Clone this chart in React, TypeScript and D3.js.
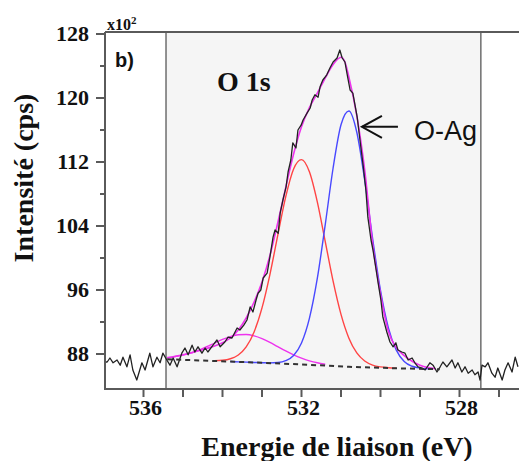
import React from 'react';
import * as d3 from 'd3';

// Raw XPS spectrum (binding energy eV, intensity x10^2 cps)
const rawSpectrum: [number, number][] = [
  [536.97, 87.0], [536.92, 87.0], [536.85, 87.5], [536.77, 86.9], [536.67, 87.25], [536.59, 86.6],
  [536.52, 87.6], [536.42, 86.4], [536.34, 87.9], [536.27, 86.0], [536.17, 84.75], [536.04, 86.9],
  [535.96, 86.0], [535.84, 88.1], [535.76, 86.4], [535.66, 87.6], [535.58, 86.9], [535.51, 88.1],
  [535.41, 87.25], [535.33, 86.6], [535.25, 87.5], [535.15, 86.4], [535.03, 88.1], [534.95, 88.75],
  [534.87, 87.9], [534.77, 89.1], [534.70, 88.25], [534.62, 88.9], [534.52, 88.1], [534.44, 88.75],
  [534.37, 88.25], [534.24, 89.1], [534.14, 89.75], [534.06, 88.9], [533.94, 89.5], [533.86, 90.1],
  [533.76, 90.0], [533.63, 91.25], [533.56, 91.0], [533.46, 91.6], [533.38, 92.25], [533.30, 93.9],
  [533.23, 93.25], [533.15, 94.75], [533.10, 95.6], [533.03, 96.0], [532.97, 97.5], [532.87, 98.1],
  [532.80, 100.1], [532.72, 102.6], [532.67, 103.5], [532.59, 103.1], [532.54, 105.6], [532.47, 107.25],
  [532.39, 108.9], [532.34, 110.75], [532.27, 112.25], [532.22, 114.4], [532.14, 113.75], [532.09, 116.0],
  [532.01, 116.6], [531.96, 117.25], [531.86, 118.1], [531.78, 118.75], [531.73, 119.75], [531.66, 120.4],
  [531.58, 120.1], [531.53, 121.4], [531.46, 122.25], [531.36, 122.9], [531.28, 123.75], [531.20, 124.5],
  [531.10, 125.0], [531.03, 126.0], [530.97, 125.0], [530.90, 124.5], [530.85, 123.1], [530.77, 121.0],
  [530.70, 120.6], [530.59, 117.6], [530.52, 114.75], [530.44, 111.6], [530.37, 108.5], [530.32, 105.1],
  [530.24, 102.25], [530.19, 101.0], [530.11, 98.5], [530.06, 96.9], [529.99, 94.75], [529.94, 92.6],
  [529.84, 90.75], [529.76, 89.5], [529.68, 88.9], [529.61, 89.4], [529.56, 88.5], [529.46, 88.25],
  [529.38, 88.1], [529.30, 87.25], [529.20, 87.5], [529.13, 86.9], [529.05, 86.4], [528.95, 86.25],
  [528.87, 86.0], [528.75, 86.9], [528.67, 86.6], [528.57, 85.75], [528.49, 86.4], [528.42, 87.0],
  [528.32, 86.4], [528.19, 87.25], [528.11, 86.25], [528.04, 86.9], [527.94, 85.75], [527.86, 86.4],
  [527.78, 85.6], [527.68, 86.0], [527.61, 85.4], [527.53, 85.75], [527.48, 84.75], [527.43, 86.6],
  [527.35, 86.4], [527.28, 86.9], [527.18, 85.6], [527.10, 85.1], [527.03, 86.25], [526.92, 84.75],
  [526.85, 86.0], [526.77, 86.9], [526.67, 85.75], [526.59, 87.6], [526.52, 86.4],
];

// Shirley-type background (dashed)
const backgroundLine: [number, number][] = [
  [535.4, 87.35], [534.6, 87.2], [533.5, 87.0], [532.0, 86.7], [530.8, 86.4], [529.5, 86.2], [528.5, 86.1],
];

// Fit envelope (magenta)
const envelopeFit: [number, number][] = [
  [535.4, 87.5], [535.2, 87.7], [535.0, 87.9], [534.8, 88.15], [534.6, 88.4], [534.4, 88.7],
  [534.2, 89.0], [534.0, 89.4], [533.8, 90.0], [533.6, 91.0], [533.4, 92.5], [533.2, 94.5],
  [533.0, 97.0], [532.8, 100.3], [532.6, 104.4], [532.4, 108.8], [532.2, 113.0], [532.0, 116.4],
  [531.8, 118.8], [531.6, 120.6], [531.4, 122.5], [531.2, 124.2], [531.0, 125.1], [530.9, 124.5],
  [530.8, 122.6], [530.6, 117.8], [530.4, 111.0], [530.2, 101.8], [530.0, 95.5], [529.8, 90.8],
  [529.6, 88.8], [529.4, 87.8], [529.2, 87.1], [529.0, 86.6], [528.8, 86.3], [528.6, 86.15],
];

// O-Ag component (blue)
const peakOAg: [number, number][] = [
  [533.8, 87.06], [533.6, 87.02], [533.4, 86.98], [533.2, 86.94], [533.0, 86.91], [532.8, 86.89],
  [532.6, 86.93], [532.4, 87.16], [532.2, 87.82], [532.0, 89.38], [531.8, 92.45], [531.6, 97.44],
  [531.4, 104.13], [531.2, 111.25], [531.0, 116.65], [530.8, 118.38], [530.6, 115.72], [530.4, 109.72],
  [530.2, 102.45], [530.0, 95.94], [529.8, 91.27], [529.6, 88.48], [529.4, 87.07], [529.2, 86.47],
  [529.0, 86.24], [528.8, 86.15],
];

// Second component (red)
const peakRed: [number, number][] = [
  [534.2, 87.17], [534.0, 87.22], [533.8, 87.41], [533.6, 87.88], [533.4, 88.89], [533.2, 90.76],
  [533.0, 93.76], [532.8, 97.93], [532.6, 102.86], [532.4, 107.64], [532.2, 111.13], [532.0, 112.3],
  [531.8, 110.78], [531.6, 107.02], [531.4, 102.08], [531.2, 97.1], [531.0, 92.95], [530.8, 89.98],
  [530.6, 88.14], [530.4, 87.13], [530.2, 86.62], [530.0, 86.39], [529.8, 86.29], [529.6, 86.23],
];

// Third, small component (magenta)
const peakSmall: [number, number][] = [
  [535.4, 87.56], [535.2, 87.67], [535.0, 87.86], [534.8, 88.12], [534.6, 88.48], [534.4, 88.91],
  [534.2, 89.37], [534.0, 89.82], [533.8, 90.18], [533.6, 90.40], [533.4, 90.43], [533.2, 90.26],
  [533.0, 89.92], [532.8, 89.45], [532.6, 88.91], [532.4, 88.38], [532.2, 87.89], [532.0, 87.48],
  [531.8, 87.15], [531.6, 86.9], [531.4, 86.72],
];

const yMajorTicks = [88, 96, 104, 112, 120, 128];
const yMinorTicks = [92, 100, 108, 116, 124];
const xTicks = [536, 535, 534, 533, 532, 531, 530, 529, 528, 527];
const xTickLabels = [536, 532, 528];
const fitRegion = [535.43, 527.46];
const arrowTip: [number, number] = [530.47, 116.4];

export default function App() {
  const W = 519, H = 461;
  const left = 105, right = 519, top = 32, bottom = 389;
  const x = d3.scaleLinear().domain([536, 528]).range([143.5, 459.5]);
  const y = d3.scaleLinear().domain([88, 128]).range([354, 34]);

  const raw = d3.line<[number, number]>().x(d => x(d[0])).y(d => y(d[1]));
  const smooth = d3.line<[number, number]>().x(d => x(d[0])).y(d => y(d[1])).curve(d3.curveMonotoneX);

  const axisColor = '#5a5a5a';
  const serif = '"Liberation Serif", "Times New Roman", serif';
  const sans = '"Liberation Sans", Arial, sans-serif';

  const ax = x(arrowTip[0]);
  const ay = y(arrowTip[1]);

  return (
    <svg width={W} height={H} style={{ position: 'absolute', left: 0, top: 0, background: '#fff' }}>
      <defs>
        <clipPath id="plotClip">
          <rect x={left} y={top} width={right - left} height={bottom - top} />
        </clipPath>
      </defs>
      {/* shaded fit region */}
      <rect x={x(fitRegion[0])} y={top} width={x(fitRegion[1]) - x(fitRegion[0])} height={bottom - top} fill="#f5f5f5" />
      <line x1={x(fitRegion[0])} x2={x(fitRegion[0])} y1={top} y2={bottom} stroke="#777" strokeWidth={1.6} />
      <line x1={x(fitRegion[1])} x2={x(fitRegion[1])} y1={top} y2={bottom} stroke="#777" strokeWidth={1.6} />

      <g clipPath="url(#plotClip)" fill="none">
        <path d={smooth(peakSmall) || ''} stroke="#ee33ee" strokeWidth={1.4} />
        <path d={smooth(peakRed) || ''} stroke="#ff4444" strokeWidth={1.4} />
        <path d={smooth(peakOAg) || ''} stroke="#4848ff" strokeWidth={1.4} />
        <path d={smooth(envelopeFit) || ''} stroke="#ee33ee" strokeWidth={1.6} />
        <path d={raw(rawSpectrum) || ''} stroke="#222" strokeWidth={1.3} strokeLinejoin="round" />
        <path d={raw(backgroundLine) || ''} stroke="#333" strokeWidth={2} strokeDasharray="5,4" />
      </g>

      {/* frame */}
      <line x1={left} x2={right} y1={top} y2={top} stroke={axisColor} strokeWidth={2} />
      <line x1={left} x2={left} y1={top} y2={bottom + 1} stroke={axisColor} strokeWidth={2} />
      <line x1={left} x2={right} y1={bottom} y2={bottom} stroke={axisColor} strokeWidth={2} />

      {/* y ticks */}
      {yMajorTicks.map(t => (
        <g key={'ym' + t}>
          <line x1={96} x2={left} y1={y(t)} y2={y(t)} stroke={axisColor} strokeWidth={2} />
          <text x={89} y={y(t) + 7} textAnchor="end" fontFamily={serif} fontWeight="bold" fontSize={22} fill="#111">{t}</text>
        </g>
      ))}
      {yMinorTicks.map(t => (
        <line key={'yn' + t} x1={100} x2={left} y1={y(t)} y2={y(t)} stroke={axisColor} strokeWidth={2} />
      ))}

      {/* x ticks */}
      {xTicks.map(t => (
        <line key={'xt' + t} x1={x(t)} x2={x(t)} y1={bottom} y2={bottom + 8} stroke={axisColor} strokeWidth={2} />
      ))}
      {xTickLabels.map(t => (
        <text key={'xl' + t} x={x(t) + 2} y={415} textAnchor="middle" fontFamily={serif} fontWeight="bold" fontSize={22} fill="#111">{t}</text>
      ))}

      {/* axis titles */}
      <text x={337} y={456} textAnchor="middle" fontFamily={serif} fontWeight="bold" fontSize={28} fill="#111">Energie de liaison (eV)</text>
      <text transform="translate(33,178) rotate(-90)" textAnchor="middle" fontFamily={serif} fontWeight="bold" fontSize={28} fill="#111">Intensité (cps)</text>

      {/* multiplier */}
      <text x={107} y={30} fontFamily={serif} fontWeight="bold" fontSize={16} fill="#111">x10<tspan dy={-6} fontSize={11}>2</tspan></text>

      {/* annotations */}
      <text x={115} y={67} fontFamily={sans} fontWeight="bold" fontSize={20} fill="#111">b)</text>
      <text x={217} y={91} fontFamily={serif} fontWeight="bold" fontSize={28} fill="#111">O 1s</text>
      <line x1={ax} x2={ax + 36} y1={ay} y2={ay} stroke="#111" strokeWidth={2} />
      <polyline points={`${ax + 20},${ay - 11} ${ax},${ay} ${ax + 20},${ay + 11}`} fill="none" stroke="#111" strokeWidth={2} />
      <text x={414} y={140} fontFamily={sans} fontSize={27} fill="#111">O-Ag</text>
    </svg>
  );
}
